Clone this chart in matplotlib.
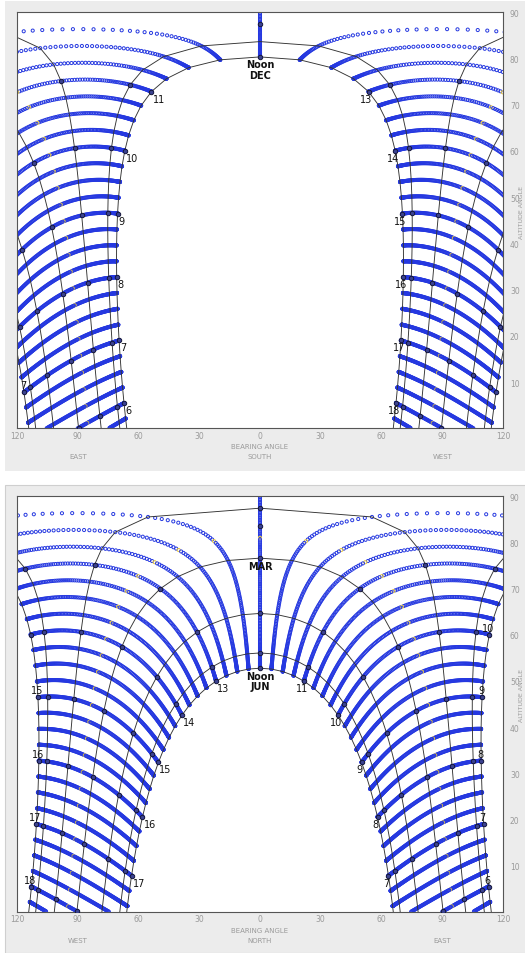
"""
Sun path charts for a site at ~13.8 S: looking south (top) and north (bottom).
Blue dots: sun position every 15 min, one dot per day from Dec 21 to Jun 21.
Black lines: date paths for the 21st of the month, circles on the whole hours.
"""

import numpy as np
import matplotlib
matplotlib.use("Agg")
import matplotlib.pyplot as plt
from matplotlib.patches import Rectangle

# -- Data ----------------------------------------------------------------------
LATITUDE      = -13.8                      # degrees, south negative
PATH_MONTHS   = ["DEC", "JAN", "FEB", "MAR", "APR", "MAY", "JUN"]
PATH_DAYS     = [355, 21, 52, 80, 111, 141, 172]   # day of year (21st)
YEAR_DAYS     = list(range(355, 366)) + list(range(1, 173))   # Dec 21 .. Jun 21
HIGHLIGHT_DAY = 69                         # the day drawn in yellow
STEP_MIN      = 15                         # time step of dots and paths
HOUR_MARKS    = [5, 6, 7, 8, 9, 10, 11, 13, 14, 15, 16, 17, 18, 19]

XTICKS       = [-120, -90, -60, -30, 0, 30, 60, 90, 120]
XTICK_LABELS = ["120", "90", "60", "30", "0", "30", "60", "90", "120"]
YTICKS       = [10, 20, 30, 40, 50, 60, 70, 80, 90]

# noon circles drawn on the centre line of each panel
TOP_NOON    = ["DEC", "FEB"]
BOTTOM_NOON = ["JUN", "MAY", "APR", "MAR", "FEB", "JAN"]

# hour labels: (month, hour, placement)  L = right/below, R = below, A = above
TOP_LABELS = ([("DEC", h, "L") for h in [6, 7, 8, 9, 10, 11]]
              + [("DEC", h, "R") for h in [13, 14, 15, 16, 17, 18]]
              + [("JUN", 7, "A")])
BOTTOM_LABELS = ([("JUN", h, "L") for h in [13, 14, 15, 16, 17]]
                 + [("JUN", h, "R") for h in [7, 8, 9, 10, 11]]
                 + [("DEC", h, "A") for h in [15, 16, 17, 18]]
                 + [("DEC", h, "A") for h in [6, 7, 8, 9, 10]])
TOP_NOON_TEXT    = [("DEC", "Noon\nDEC")]
BOTTOM_NOON_TEXT = [("JUN", "Noon\nJUN"), ("MAR", "MAR")]

# -- Styling -------------------------------------------------------------------
W_PX, H_PX = 525, 954
BG_GREY    = "#ececec"
DOT_BLUE   = "#2538e0"
DOT_YELLOW = "#e2c440"
PATH_COL   = "#333333"
TICK_GREY  = "#9a9a9a"
DOT_SIZE   = 5.0
DOT_LW     = 0.7


# -- Geometry ------------------------------------------------------------------

def declination(day):
    return 23.45 * np.sin(np.radians(360.0 / 365.0 * (284 + np.asarray(day))))


def sun_position(dec, hour_angle):
    """Altitude and azimuth (from north, east positive) in degrees."""
    lat = np.radians(LATITUDE)
    d = np.radians(dec)
    h = np.radians(hour_angle)
    sin_alt = np.sin(lat) * np.sin(d) + np.cos(lat) * np.cos(d) * np.cos(h)
    alt = np.degrees(np.arcsin(np.clip(sin_alt, -1, 1)))
    east = -np.cos(d) * np.sin(h)
    north = np.sin(d) * np.cos(lat) - np.cos(d) * np.cos(h) * np.sin(lat)
    return alt, np.degrees(np.arctan2(east, north))


def bearing_x(az, facing):
    # looking south: east on the left; looking north: west on the left
    if facing == "south":
        return np.where(az > 0, az - 180.0, az + 180.0)
    return az


def hour_angle(hours):
    return (np.asarray(hours, dtype=float) - 12.0) * 15.0


# -- Plot ----------------------------------------------------------------------

def px_to_pt(px):
    return px * 72.0 / 100.0


def draw_panel(ax, facing, noon_marks, labels, noon_texts, side_words):
    times = np.arange(0, 24 * 60 + 1, STEP_MIN) / 60.0
    ha_all = hour_angle(times)

    # dots, day by day so later days partly cover earlier ones
    days = np.array(YEAR_DAYS)
    hh, dd = np.meshgrid(ha_all, days)
    alt, az = sun_position(declination(dd), hh)
    x = bearing_x(az, facing)
    cols = np.where(dd == HIGHLIGHT_DAY, DOT_YELLOW, DOT_BLUE)
    keep = (alt > 0) & (np.abs(x) < 123)
    ax.scatter(x[keep], alt[keep], s=DOT_SIZE, facecolors="none",
               edgecolors=cols[keep], linewidths=DOT_LW, zorder=1)

    # date paths
    paths = {}
    for month, day in zip(PATH_MONTHS, PATH_DAYS):
        dec = declination(day)
        a, z = sun_position(dec, ha_all)
        px = bearing_x(z, facing).astype(float)
        pa = a.astype(float)
        jump = np.abs(np.diff(px)) > 100
        px_l, pa_l = list(px[:1]), list(pa[:1])
        for i in range(1, len(px)):
            if jump[i - 1]:
                px_l.append(np.nan)
                pa_l.append(np.nan)
            px_l.append(px[i])
            pa_l.append(pa[i])
        ax.plot(px_l, pa_l, color=PATH_COL, lw=0.65, zorder=2)

        ha_h = hour_angle(HOUR_MARKS)
        ah, zh = sun_position(dec, ha_h)
        xh = bearing_x(zh, facing)
        m = (ah > 0) & (np.abs(xh) <= 120)
        ax.plot(xh[m], ah[m], "o", ms=3.2, mfc="#3b4290", mec="#14163a",
                mew=0.7, zorder=3)
        paths[month] = dec

    for month in noon_marks:
        a0, _ = sun_position(paths[month], 0.0)
        ax.plot([0], [a0], "o", ms=3.2, mfc="#3b4290", mec="#14163a",
                mew=0.7, zorder=3)

    # hour labels
    for month, hr, kind in labels:
        a, z = sun_position(paths[month], hour_angle(hr))
        xp = float(bearing_x(z, facing))
        if kind == "L":
            off, ha, va = (px_to_pt(1), px_to_pt(-2)), "left", "top"
        elif kind == "R":
            off, ha, va = (px_to_pt(-2), px_to_pt(-2)), "center", "top"
        else:
            off, ha, va = (px_to_pt(-1), px_to_pt(2)), "center", "bottom"
        ax.annotate(str(hr), (xp, float(a)), xytext=off,
                    textcoords="offset points", ha=ha, va=va,
                    fontsize=7, color="#111111", zorder=4,
                    annotation_clip=False)

    for month, text in noon_texts:
        a0, _ = sun_position(paths[month], 0.0)
        ax.annotate(text, (0, float(a0)), xytext=(0, px_to_pt(-2.5)),
                    textcoords="offset points", ha="center", va="top",
                    fontsize=7, fontweight="bold", color="#111111",
                    linespacing=1.05, zorder=4)

    # axes look
    ax.set_xlim(-120, 120)
    ax.set_ylim(0, 90)
    ax.set_xticks(XTICKS)
    ax.set_xticklabels(XTICK_LABELS)
    ax.set_yticks(YTICKS)
    ax.yaxis.tick_right()
    ax.tick_params(length=0, labelsize=5.5, labelcolor=TICK_GREY)
    ax.tick_params(axis="x", pad=2)
    ax.tick_params(axis="y", pad=5)
    for sp in ax.spines.values():
        sp.set_color("#555555")
        sp.set_linewidth(0.8)
    ax.set_facecolor("white")

    trans = ax.get_xaxis_transform()
    h_ax = ax.get_position().height * H_PX
    row1 = -18.0 / h_ax
    row2 = -28.0 / h_ax
    ax.text(0, row1, "BEARING ANGLE", transform=trans, ha="center", va="center",
            fontsize=5, color=TICK_GREY)
    ax.text(0, row2, side_words[1], transform=trans, ha="center", va="center",
            fontsize=5, color=TICK_GREY)
    ax.text(-90, row2, side_words[0], transform=trans, ha="center", va="center",
            fontsize=5, color=TICK_GREY)
    ax.text(90, row2, side_words[2], transform=trans, ha="center", va="center",
            fontsize=5, color=TICK_GREY)
    ax.text((521.8 - 17) / 486.0, 47, "ALTITUDE ANGLE",
            transform=ax.get_yaxis_transform(), rotation=90,
            ha="center", va="center", fontsize=4.5, color=TICK_GREY)


def main():
    fig = plt.figure(figsize=(W_PX / 100, H_PX / 100), dpi=100)
    fig.patch.set_facecolor("white")

    # grey panel backgrounds
    fig.add_artist(Rectangle((5 / W_PX, 1 - 471.7 / H_PX), 1, (471.7 - 2) / H_PX,
                             transform=fig.transFigure, facecolor=BG_GREY,
                             edgecolor="none", zorder=-10))
    fig.add_artist(Rectangle((5 / W_PX, 0), 1, (954 - 486) / H_PX,
                             transform=fig.transFigure, facecolor=BG_GREY,
                             edgecolor="#cfcfcf", lw=0.8, zorder=-10))

    ax_top = fig.add_axes([17 / W_PX, 1 - 429.3 / H_PX, 486 / W_PX, 416 / H_PX])
    ax_bot = fig.add_axes([17 / W_PX, 1 - 912.7 / H_PX, 486 / W_PX, 415.4 / H_PX])

    draw_panel(ax_top, "south", TOP_NOON, TOP_LABELS, TOP_NOON_TEXT,
               ("EAST", "SOUTH", "WEST"))
    draw_panel(ax_bot, "north", BOTTOM_NOON, BOTTOM_LABELS, BOTTOM_NOON_TEXT,
               ("WEST", "NORTH", "EAST"))

    fig.savefig("out.png", dpi=100)


if __name__ == "__main__":
    main()
